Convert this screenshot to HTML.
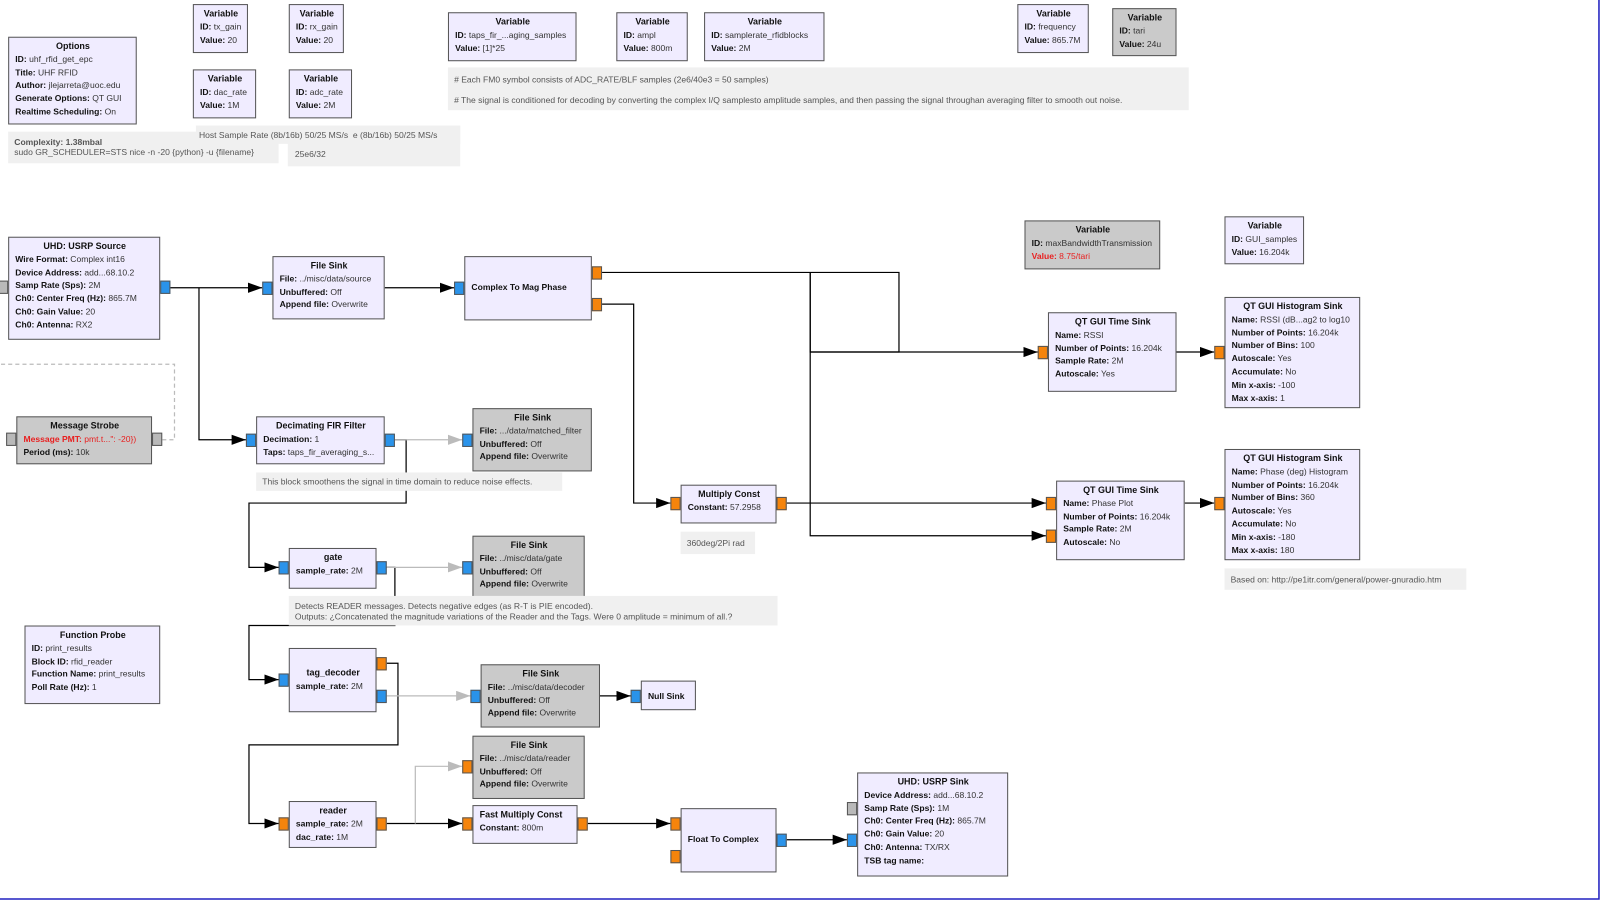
<!DOCTYPE html>
<html><head><meta charset="utf-8">
<style>
html,body{margin:0;padding:0;background:#fff;overflow:hidden;width:1600px;height:900px}
#c{position:absolute;left:0;top:0;width:1568px;height:882px;transform:scale(1.0204);transform-origin:0 0;font-family:"Liberation Sans","DejaVu Sans",sans-serif;font-size:8.4px;color:#333}
.b{position:absolute;background:#f0ecff;border:1px solid #555;box-sizing:border-box;padding:2px 5px 0 6px;line-height:12.8px;white-space:nowrap;overflow:hidden}
.g{background:#cacaca}
.b .t{text-align:center;font-weight:bold;font-size:8.8px;color:#111}
.b b{color:#111}
.r,.r b{color:#e82020}
.n{position:absolute;background:#f0f0f0;color:#555;padding:0 6px;box-sizing:border-box;white-space:nowrap;line-height:10px}
.p{position:absolute;width:10px;height:13px;box-sizing:border-box;border:1px solid #555}
.pb{background:#2a93ea}.po{background:#f5840c}.pg{background:#b9b9b9}
svg{position:absolute;left:0;top:0}
</style></head><body><div id="c">
<svg width="1568" height="882">
<defs>
<marker id="a" markerWidth="14" markerHeight="10" refX="14" refY="5" orient="auto" markerUnits="userSpaceOnUse"><path d="M0,0L14,5L0,10z" fill="#000"/></marker>
<marker id="ag" markerWidth="14" markerHeight="10" refX="14" refY="5" orient="auto" markerUnits="userSpaceOnUse"><path d="M0,0L14,5L0,10z" fill="#bbb"/></marker>
</defs>
<g fill="none" stroke="#000" stroke-width="1.2">
<path d="M167,282H257" marker-end="url(#a)"/>
<path d="M195,282V431H241" marker-end="url(#a)"/>
<path d="M377,282H445" marker-end="url(#a)"/>
<path d="M590,267H881V345H794V267"/>
<path d="M794,345H1017" marker-end="url(#a)"/>
<path d="M794,267V525H1025" marker-end="url(#a)"/>
<path d="M590,298H621V493H657" marker-end="url(#a)"/>
<path d="M771,493H1025" marker-end="url(#a)"/>
<path d="M1153,345H1190" marker-end="url(#a)"/>
<path d="M1161,493H1190" marker-end="url(#a)"/>
<path d="M387,431H398V493H244V556H273" marker-end="url(#a)"/>
<path d="M379,556H387V613H244V666H273" marker-end="url(#a)"/>
<path d="M379,650H390V730H244V807H273" marker-end="url(#a)"/>
<path d="M588,682H618" marker-end="url(#a)"/>
<path d="M379,807H453" marker-end="url(#a)"/>
<path d="M576,807H657" marker-end="url(#a)"/>
<path d="M771,823H830" marker-end="url(#a)"/>
</g>
<g fill="none" stroke="#bbb" stroke-width="1.2">
<path d="M387,431H453" marker-end="url(#ag)"/>
<path d="M379,556H453" marker-end="url(#ag)"/>
<path d="M379,682H461" marker-end="url(#ag)"/>
<path d="M407,807V751H453" marker-end="url(#ag)"/>
<path d="M159,431H171V357H0" stroke-dasharray="4,3"/>
</g>
<path d="M1567,0V881H0" fill="none" stroke="#2020c0" stroke-width="1.5"/>
</svg>

<div class="b" style="left:8px;top:36px;width:126px;height:86px"><div class="t">Options</div><b>ID:</b> uhf_rfid_get_epc<br><b>Title:</b> UHF RFID<br><b>Author:</b> jlejarreta@uoc.edu<br><b>Generate Options:</b> QT GUI<br><b>Realtime Scheduling:</b> On</div>
<div class="n" style="left:8px;top:129px;width:265px;height:31px;padding-top:5px"><b style="color:#555">Complexity: 1.38mbal</b><br>sudo GR_SCHEDULER=STS nice -n -20 {python} -u {filename}</div>
<div class="n" style="left:282px;top:123px;width:169px;height:40px"></div>
<div class="n" style="left:192px;top:123px;width:259px;height:18px;padding-top:4px;padding-left:3px">Host Sample Rate (8b/16b) 50/25 MS/s &nbsp;e (8b/16b) 50/25 MS/s</div>
<div class="n" style="left:283px;top:146px;background:none">25e6/32</div>

<div class="b" style="left:189px;top:4px;width:54px;height:48px"><div class="t">Variable</div><b>ID:</b> tx_gain<br><b>Value:</b> 20</div>
<div class="b" style="left:283px;top:4px;width:54px;height:48px"><div class="t">Variable</div><b>ID:</b> rx_gain<br><b>Value:</b> 20</div>
<div class="b" style="left:189px;top:68px;width:62px;height:48px"><div class="t">Variable</div><b>ID:</b> dac_rate<br><b>Value:</b> 1M</div>
<div class="b" style="left:283px;top:68px;width:62px;height:48px"><div class="t">Variable</div><b>ID:</b> adc_rate<br><b>Value:</b> 2M</div>
<div class="b" style="left:439px;top:12px;width:126px;height:48px"><div class="t">Variable</div><b>ID:</b> taps_fir_...aging_samples<br><b>Value:</b> [1]*25</div>
<div class="b" style="left:604px;top:12px;width:70px;height:48px"><div class="t">Variable</div><b>ID:</b> ampl<br><b>Value:</b> 800m</div>
<div class="b" style="left:690px;top:12px;width:118px;height:48px"><div class="t">Variable</div><b>ID:</b> samplerate_rfidblocks<br><b>Value:</b> 2M</div>
<div class="b" style="left:997px;top:4px;width:70px;height:48px"><div class="t">Variable</div><b>ID:</b> frequency<br><b>Value:</b> 865.7M</div>
<div class="b g" style="left:1090px;top:8px;width:63px;height:47px"><div class="t">Variable</div><b>ID:</b> tari<br><b>Value:</b> 24u</div>
<div class="n" style="left:439px;top:66px;width:726px;height:42px;padding-top:2px;line-height:20px"># Each FM0 symbol consists of ADC_RATE/BLF samples (2e6/40e3 = 50 samples)<br># The signal is conditioned for decoding by converting the complex I/Q samplesto amplitude samples, and then passing the signal throughan averaging filter to smooth out noise.</div>

<div class="b g" style="left:1004px;top:216px;width:133px;height:48px"><div class="t">Variable</div><b>ID:</b> maxBandwidthTransmission<br><span class="r"><b>Value:</b> 8.75/tari</span></div>
<div class="b" style="left:1200px;top:212px;width:78px;height:47px"><div class="t">Variable</div><b>ID:</b> GUI_samples<br><b>Value:</b> 16.204k</div>

<div class="b" style="left:8px;top:232px;width:149px;height:101px"><div class="t">UHD: USRP Source</div><b>Wire Format:</b> Complex int16<br><b>Device Address:</b> add...68.10.2<br><b>Samp Rate (Sps):</b> 2M<br><b>Ch0: Center Freq (Hz):</b> 865.7M<br><b>Ch0: Gain Value:</b> 20<br><b>Ch0: Antenna:</b> RX2</div>
<div class="p pg" style="left:-2px;top:275px"></div><div class="p pb" style="left:157px;top:275px"></div>

<div class="b" style="left:267px;top:251px;width:110px;height:62px"><div class="t">File Sink</div><b>File:</b> ../misc/data/source<br><b>Unbuffered:</b> Off<br><b>Append file:</b> Overwrite</div>
<div class="p pb" style="left:257px;top:276px"></div>

<div class="b" style="left:455px;top:251px;width:125px;height:63px;padding-top:23px"><b>Complex To Mag Phase</b></div>
<div class="p pb" style="left:445px;top:276px"></div><div class="p po" style="left:580px;top:261px"></div><div class="p po" style="left:580px;top:292px"></div>

<div class="b g" style="left:16px;top:408px;width:133px;height:47px"><div class="t">Message Strobe</div><span class="r"><b>Message PMT:</b> pmt.t...": -20})</span><br><b>Period (ms):</b> 10k</div>
<div class="p pg" style="left:6px;top:424px"></div><div class="p pg" style="left:149px;top:424px"></div>

<div class="b" style="left:251px;top:408px;width:126px;height:47px"><div class="t">Decimating FIR Filter</div><b>Decimation:</b> 1<br><b>Taps:</b> taps_fir_averaging_s...</div>
<div class="p pb" style="left:241px;top:425px"></div><div class="p pb" style="left:377px;top:425px"></div>

<div class="b g" style="left:463px;top:400px;width:117px;height:62px"><div class="t">File Sink</div><b>File:</b> .../data/matched_filter<br><b>Unbuffered:</b> Off<br><b>Append file:</b> Overwrite</div>
<div class="p pb" style="left:453px;top:425px"></div>
<div class="n" style="left:251px;top:463px;width:300px;height:18px;padding-top:4px">This block smoothens the signal in time domain to reduce noise effects.</div>

<div class="b" style="left:283px;top:537px;width:86px;height:40px"><div class="t">gate</div><b>sample_rate:</b> 2M</div>
<div class="p pb" style="left:273px;top:550px"></div><div class="p pb" style="left:369px;top:550px"></div>
<div class="b g" style="left:463px;top:525px;width:110px;height:62px"><div class="t">File Sink</div><b>File:</b> ../misc/data/gate<br><b>Unbuffered:</b> Off<br><b>Append file:</b> Overwrite</div>
<div class="p pb" style="left:453px;top:550px"></div>
<div class="n" style="left:283px;top:584px;width:479px;height:29px;padding-top:5px">Detects READER messages. Detects negative edges (as R-T is PIE encoded).<br>Outputs: ¿Concatenated the magnitude variations of the Reader and the Tags. Were 0 amplitude = minimum of all.?</div>

<div class="b" style="left:24px;top:613px;width:133px;height:77px"><div class="t">Function Probe</div><b>ID:</b> print_results<br><b>Block ID:</b> rfid_reader<br><b>Function Name:</b> print_results<br><b>Poll Rate (Hz):</b> 1</div>

<div class="b" style="left:283px;top:635px;width:86px;height:63px;padding-top:17px"><div class="t">tag_decoder</div><b>sample_rate:</b> 2M</div>
<div class="p pb" style="left:273px;top:660px"></div><div class="p po" style="left:369px;top:644px"></div><div class="p pb" style="left:369px;top:676px"></div>
<div class="b g" style="left:471px;top:651px;width:117px;height:62px"><div class="t">File Sink</div><b>File:</b> ../misc/data/decoder<br><b>Unbuffered:</b> Off<br><b>Append file:</b> Overwrite</div>
<div class="p pb" style="left:461px;top:676px"></div>
<div class="b" style="left:628px;top:667px;width:54px;height:29px;padding-top:8px"><b>Null Sink</b></div>
<div class="p pb" style="left:618px;top:676px"></div>

<div class="b g" style="left:463px;top:721px;width:110px;height:62px"><div class="t">File Sink</div><b>File:</b> ../misc/data/reader<br><b>Unbuffered:</b> Off<br><b>Append file:</b> Overwrite</div>
<div class="p po" style="left:453px;top:745px"></div>
<div class="b" style="left:283px;top:785px;width:86px;height:46px"><div class="t">reader</div><b>sample_rate:</b> 2M<br><b>dac_rate:</b> 1M</div>
<div class="p po" style="left:273px;top:801px"></div><div class="p po" style="left:369px;top:801px"></div>
<div class="b" style="left:463px;top:789px;width:103px;height:38px"><div class="t" style="text-align:left">Fast Multiply Const</div><b>Constant:</b> 800m</div>
<div class="p po" style="left:453px;top:801px"></div><div class="p po" style="left:566px;top:801px"></div>

<div class="b" style="left:667px;top:792px;width:94px;height:63px;padding-top:23px"><b>Float To Complex</b></div>
<div class="p po" style="left:657px;top:801px"></div><div class="p po" style="left:657px;top:833px"></div><div class="p pb" style="left:761px;top:817px"></div>
<div class="b" style="left:840px;top:757px;width:148px;height:102px"><div class="t">UHD: USRP Sink</div><b>Device Address:</b> add...68.10.2<br><b>Samp Rate (Sps):</b> 1M<br><b>Ch0: Center Freq (Hz):</b> 865.7M<br><b>Ch0: Gain Value:</b> 20<br><b>Ch0: Antenna:</b> TX/RX<br><b>TSB tag name:</b></div>
<div class="p pg" style="left:830px;top:786px"></div><div class="p pb" style="left:830px;top:817px"></div>

<div class="b" style="left:667px;top:475px;width:94px;height:38px"><div class="t">Multiply Const</div><b>Constant:</b> 57.2958</div>
<div class="p po" style="left:657px;top:487px"></div><div class="p po" style="left:761px;top:487px"></div>
<div class="n" style="left:667px;top:521px;width:73px;height:22px;padding-top:6px">360deg/2Pi rad</div>

<div class="b" style="left:1027px;top:306px;width:126px;height:78px"><div class="t">QT GUI Time Sink</div><b>Name:</b> RSSI<br><b>Number of Points:</b> 16.204k<br><b>Sample Rate:</b> 2M<br><b>Autoscale:</b> Yes</div>
<div class="p po" style="left:1017px;top:339px"></div>
<div class="b" style="left:1200px;top:291px;width:133px;height:109px"><div class="t">QT GUI Histogram Sink</div><b>Name:</b> RSSI (dB...ag2 to log10<br><b>Number of Points:</b> 16.204k<br><b>Number of Bins:</b> 100<br><b>Autoscale:</b> Yes<br><b>Accumulate:</b> No<br><b>Min x-axis:</b> -100<br><b>Max x-axis:</b> 1</div>
<div class="p po" style="left:1190px;top:339px"></div>

<div class="b" style="left:1035px;top:471px;width:126px;height:78px"><div class="t">QT GUI Time Sink</div><b>Name:</b> Phase Plot<br><b>Number of Points:</b> 16.204k<br><b>Sample Rate:</b> 2M<br><b>Autoscale:</b> No</div>
<div class="p po" style="left:1025px;top:487px"></div><div class="p po" style="left:1025px;top:519px"></div>
<div class="b" style="left:1200px;top:440px;width:133px;height:109px"><div class="t">QT GUI Histogram Sink</div><b>Name:</b> Phase (deg) Histogram<br><b>Number of Points:</b> 16.204k<br><b>Number of Bins:</b> 360<br><b>Autoscale:</b> Yes<br><b>Accumulate:</b> No<br><b>Min x-axis:</b> -180<br><b>Max x-axis:</b> 180</div>
<div class="p po" style="left:1190px;top:487px"></div>
<div class="n" style="left:1200px;top:557px;width:237px;height:21px;padding-top:6px">Based on: http://pe1itr.com/general/power-gnuradio.htm</div>
</div></body></html>
